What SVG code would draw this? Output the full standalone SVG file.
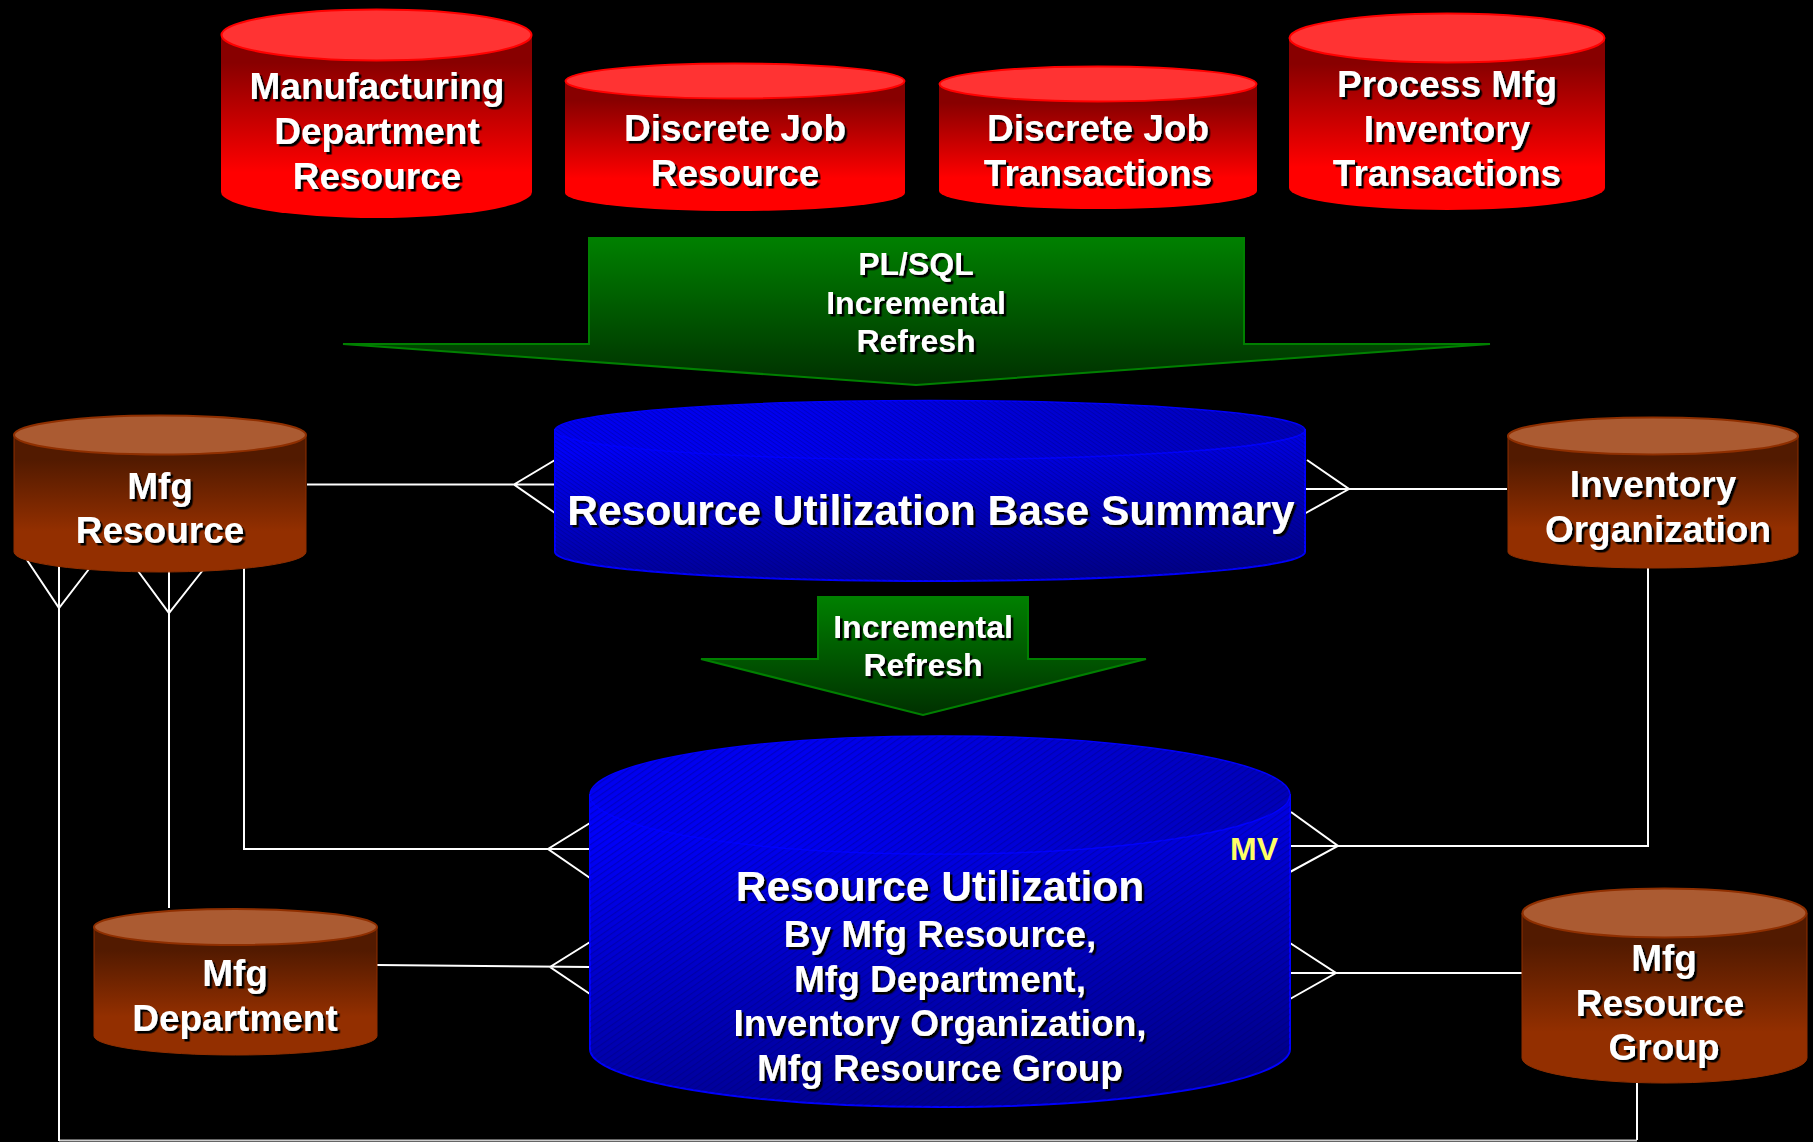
<svg xmlns="http://www.w3.org/2000/svg" width="1813" height="1142" viewBox="0 0 1813 1142">
<style>
text{font-family:"Liberation Sans",Arial,sans-serif;font-weight:700;fill:#fff;text-anchor:middle;font-size:37px;filter:url(#sh)}
.s32{font-size:32px}
.s42{font-size:42.5px}
.mv{fill:#ffff66;font-size:32px;filter:none}
.link{fill:none;stroke:#fff;stroke-width:2}
.red .b{fill:url(#gr)}.red .t{fill:#ff3333;stroke:#ff0000;stroke-width:2}
.brn .b{fill:url(#gb);stroke:#8f2f00;stroke-width:1}.brn .t{fill:#ab5b32;stroke:#8f2f00;stroke-width:2}
.blu .b{fill:url(#gl);stroke:#0000ff;stroke-width:2}.blu .t{fill:url(#gt);stroke:#0000ff;stroke-width:1.5}
.arw{fill:url(#gg);stroke:#008000;stroke-width:2}
</style>
<defs>
<filter id="sh" x="-10%" y="-20%" width="120%" height="150%"><feDropShadow dx="2.5" dy="2.5" stdDeviation="0.3" flood-color="#000"/></filter>
<linearGradient id="gr" x1="0" y1="0" x2="0" y2="1"><stop offset="0.15" stop-color="#880000"/><stop offset="0.75" stop-color="#ff0000"/></linearGradient>
<linearGradient id="gb" x1="0" y1="0" x2="0" y2="1"><stop offset="0.18" stop-color="#521a00"/><stop offset="0.7" stop-color="#932f00"/></linearGradient>
<linearGradient id="gl" x1="0" y1="0" x2="0.45" y2="1.35"><stop offset="0.1" stop-color="#0000f8"/><stop offset="0.9" stop-color="#000078"/></linearGradient>
<linearGradient id="gt" x1="0" y1="0" x2="1" y2="0"><stop offset="0.3" stop-color="#0000f0"/><stop offset="1" stop-color="#0000b8"/></linearGradient>
<linearGradient id="gg" x1="0" y1="0" x2="0" y2="1"><stop offset="0" stop-color="#008000"/><stop offset="1" stop-color="#003000"/></linearGradient>
<pattern id="h1" width="5" height="5" patternUnits="userSpaceOnUse" patternTransform="rotate(-35)"><rect width="5" height="1.2" fill="#000060" fill-opacity="0.3"/></pattern>
<pattern id="h2" width="3.4" height="3.4" patternUnits="userSpaceOnUse" patternTransform="rotate(35)"><rect width="3.4" height="1" fill="#000060" fill-opacity="0.3"/></pattern>
</defs>
<rect width="1813" height="1142" fill="#000"/>
<g id="connectors">
<path class="link" d="M307 484.500H555M555 460L514 484.500L555 513"/>
<path class="link" d="M1306 489H1507M1307 460L1349 489L1304 514"/>
<path class="link" d="M59 566V1141M27 560L59 608L89 569"/>
<path class="link" d="M1637 1083V1140"/>
<path class="link" stroke-opacity="0.8" d="M59 1140.500H1637"/>
<path class="link" d="M169 570V908M138 571L169 613L203 570"/>
<path class="link" d="M244 565V849H590M590 823L548 849L590 878"/>
<path class="link" d="M1648 568V846H1290M1291 812L1338 846L1290 872"/>
<path class="link" d="M377 965L590 967M590 942L550 967L590 994"/>
<path class="link" d="M1290 973H1522M1290 943L1336 973L1290 999"/>
</g>
<g id="mfg-dept-resource" class="red">
<path class="b" d="M221 35V192A155.500 26 0 0 0 532 192V35Z"/><ellipse class="t" cx="376.500" cy="35" rx="155" ry="25.500"/>
<text x="377" y="99">Manufacturing</text><text x="377" y="144">Department</text><text x="377" y="189">Resource</text>
</g>
<g id="discrete-job-resource" class="red">
<path class="b" d="M565 81V193A170 18 0 0 0 905 193V81Z"/><ellipse class="t" cx="735" cy="81" rx="169.500" ry="17.500"/>
<text x="735" y="141">Discrete Job</text><text x="735" y="186">Resource</text>
</g>
<g id="discrete-job-transactions" class="red">
<path class="b" d="M939 84V191A159 18 0 0 0 1257 191V84Z"/><ellipse class="t" cx="1098" cy="84" rx="158.500" ry="17.500"/>
<text x="1098" y="141">Discrete Job</text><text x="1098" y="186">Transactions</text>
</g>
<g id="process-mfg-inventory-transactions" class="red">
<path class="b" d="M1289 38V188A158 22 0 0 0 1605 188V38Z"/><ellipse class="t" cx="1447" cy="38" rx="157.500" ry="24.500"/>
<text x="1447" y="97">Process Mfg</text><text x="1447" y="142">Inventory</text><text x="1447" y="186">Transactions</text>
</g>
<g id="plsql-refresh">
<path class="arw" d="M589 238H1244V344H1490L916 385L343 344H589Z"/>
<text class="s32" x="916" y="275">PL/SQL</text><text class="s32" x="916" y="314">Incremental</text><text class="s32" x="916" y="352">Refresh</text>
</g>
<g id="incremental-refresh">
<path class="arw" d="M818 597H1028V659H1146L923 715L701 659H818Z"/>
<text class="s32" x="923" y="638">Incremental</text><text class="s32" x="923" y="676">Refresh</text>
</g>
<g id="mfg-resource" class="brn">
<path class="b" d="M14 435V552A146 20 0 0 0 306 552V435Z"/><ellipse class="t" cx="160" cy="435" rx="146" ry="19.500"/>
<text x="160" y="499">Mfg</text><text x="160" y="543">Resource</text>
</g>
<g id="inventory-organization" class="brn">
<path class="b" d="M1508 436V552A145 16 0 0 0 1798 552V436Z"/><ellipse class="t" cx="1653" cy="436" rx="145" ry="18.500"/>
<text x="1653" y="497">Inventory</text><text x="1658" y="542">Organization</text>
</g>
<g id="base-summary" class="blu">
<path class="b" d="M555 430V552A375 29 0 0 0 1305 552V430Z"/><path d="M555 430V552A375 29 0 0 0 1305 552V430Z" fill="url(#h2)"/>
<ellipse class="t" cx="930" cy="430" rx="375" ry="29.500"/><ellipse cx="930" cy="430" rx="375" ry="29.500" fill="url(#h2)"/>
<text class="s42" x="931" y="525">Resource Utilization Base Summary</text>
</g>
<g id="resource-utilization" class="blu">
<path class="b" d="M590 795V1049A350 58 0 0 0 1290 1049V795Z"/><path d="M590 795V1049A350 58 0 0 0 1290 1049V795Z" fill="url(#h1)"/>
<ellipse class="t" cx="940" cy="795" rx="350" ry="59"/><ellipse cx="940" cy="795" rx="350" ry="59" fill="url(#h1)"/>
<text class="mv" x="1254" y="860">MV</text>
<text class="s42" x="940" y="901">Resource Utilization</text>
<text x="940" y="947">By Mfg Resource,</text><text x="940" y="992">Mfg Department,</text><text x="940" y="1036">Inventory Organization,</text><text x="940" y="1081">Mfg Resource Group</text>
</g>
<g id="mfg-department" class="brn">
<path class="b" d="M94 927V1036A141.500 19 0 0 0 377 1036V927Z"/><ellipse class="t" cx="235.500" cy="927" rx="141.500" ry="18"/>
<text x="235" y="986">Mfg</text><text x="235" y="1031">Department</text>
</g>
<g id="mfg-resource-group" class="brn">
<path class="b" d="M1522 913V1058A142.500 25 0 0 0 1807 1058V913Z"/><ellipse class="t" cx="1664.500" cy="913" rx="142" ry="24.500"/>
<text x="1664" y="971">Mfg</text><text x="1660" y="1016">Resource</text><text x="1664" y="1060">Group</text>
</g>
</svg>
